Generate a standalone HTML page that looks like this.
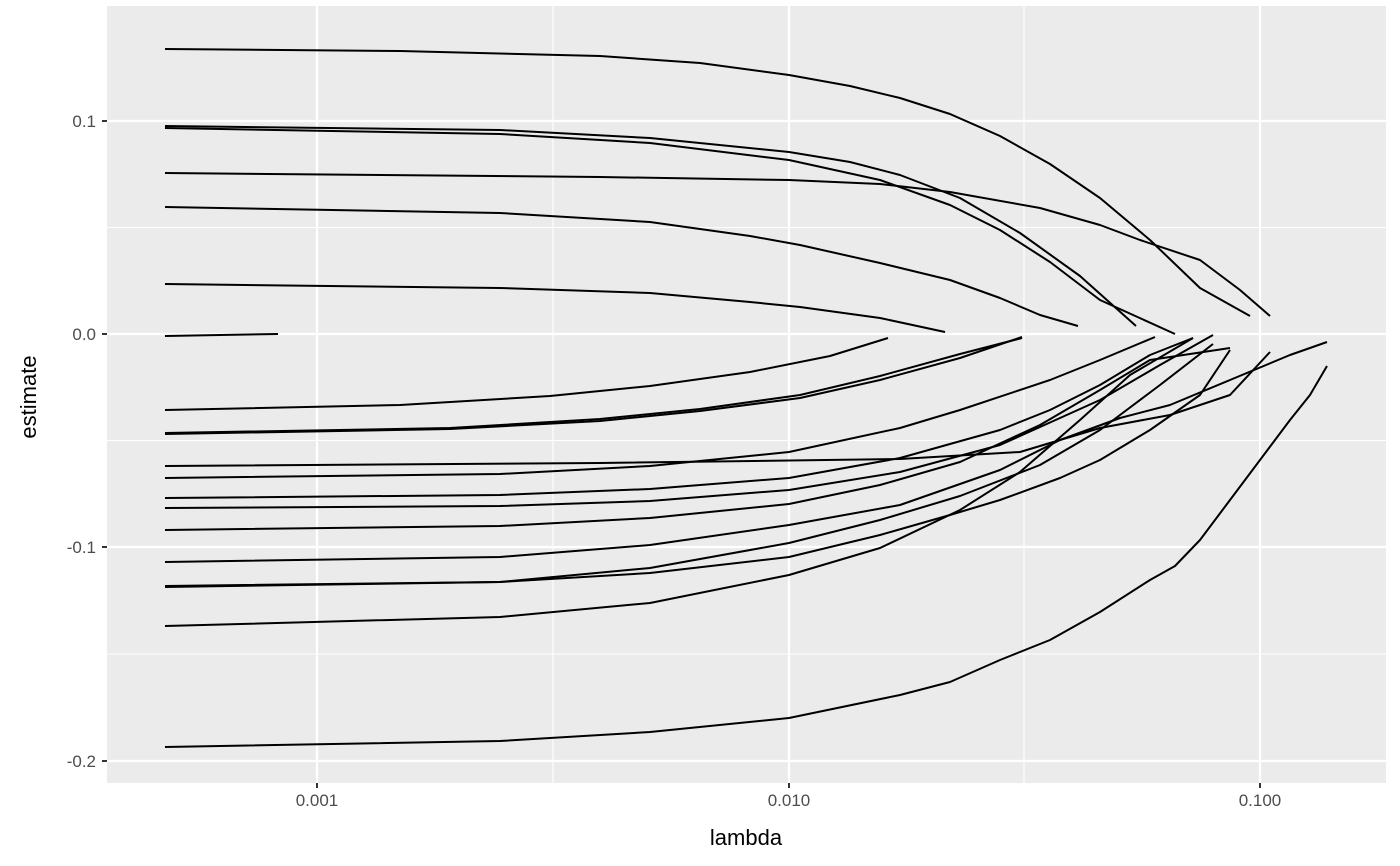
<!DOCTYPE html>
<html><head><style>body{margin:0;background:#fff}svg{display:block}text{font-family:"Liberation Sans",sans-serif}</style></head>
<body>
<svg width="1400" height="866" viewBox="0 0 1400 866">
<rect x="107" y="6" width="1279" height="777" fill="#ebebeb"/>
<g stroke="#fff" stroke-width="1.1">
<line x1="107" x2="1386" y1="227.5" y2="227.5"/><line x1="107" x2="1386" y1="440.5" y2="440.5"/><line x1="107" x2="1386" y1="654" y2="654"/>
<line x1="553" x2="553" y1="6" y2="783"/><line x1="1024" x2="1024" y1="6" y2="783"/>
</g>
<g stroke="#fff" stroke-width="2.2">
<line x1="107" x2="1386" y1="121" y2="121"/><line x1="107" x2="1386" y1="334" y2="334"/><line x1="107" x2="1386" y1="547" y2="547"/><line x1="107" x2="1386" y1="761" y2="761"/>
<line x1="317" x2="317" y1="6" y2="783"/><line x1="789" x2="789" y1="6" y2="783"/><line x1="1260" x2="1260" y1="6" y2="783"/>
</g>
<g fill="none" stroke="#000" stroke-width="2" stroke-linejoin="round">
<polyline points="165,49 400,51 600,56 700,63 789,75 850,86 900,98 950,114 1000,136 1050,164 1100,198 1150,240 1200,288 1250,316"/>
<polyline points="165,126 500,130 650,138 789,152 850,162 900,175 960,198 1020,233 1080,276 1136,326"/>
<polyline points="165,128 500,134 650,143 789,160 880,180 950,205 1000,230 1050,262 1100,300 1175,334"/>
<polyline points="165,173 600,177 789,180 880,184 950,192 1040,208 1100,225 1140,240 1200,260 1240,290 1270,316"/>
<polyline points="165,207 500,213 650,222 750,236 800,245 880,263 950,280 1000,298 1040,315 1078,326"/>
<polyline points="165,284 500,288 650,293 750,302 800,307 880,318 945,332"/>
<polyline points="165,336 278,334"/>
<polyline points="165,410 400,405 550,396 650,386 750,372 830,356 888,338"/>
<polyline points="165,434 450,429 600,421 700,411 800,398 880,380 960,358 1022,337"/>
<polyline points="165,433 450,428 600,419 700,409 800,395 880,376 960,354 1022,338"/>
<polyline points="165,466 600,463 900,459 1020,452 1100,428 1170,415 1230,395 1270,352"/>
<polyline points="165,478 500,474 650,466 789,452 900,428 960,410 1050,380 1100,360 1155,337"/>
<polyline points="165,498 500,495 650,489 789,478 900,458 1000,430 1050,410 1100,385 1150,355 1193,338"/>
<polyline points="165,508 500,506 650,501 789,490 900,472 1000,445 1100,400 1160,365 1213,335"/>
<polyline points="165,530 500,526 650,518 789,504 880,485 960,462 1040,425 1100,390 1150,360 1230,348"/>
<polyline points="165,562 500,557 650,545 789,525 900,505 1000,470 1060,440 1120,418 1170,405 1230,380 1290,355 1327,342"/>
<polyline points="165,586 500,582 650,573 789,557 880,535 950,515 1000,500 1060,478 1100,460 1150,430 1200,395 1230,350"/>
<polyline points="165,587 500,582 650,568 789,543 880,520 960,496 1040,465 1100,430 1160,385 1213,344"/>
<polyline points="165,626 500,617 650,603 789,575 880,548 960,510 1020,472 1080,420 1130,375 1193,338"/>
<polyline points="165,747 500,741 650,732 789,718 900,695 950,682 1000,660 1050,640 1100,612 1150,580 1175,566 1200,540 1230,500 1260,460 1290,420 1310,395 1327,366"/>
</g>
<g stroke="#333" stroke-width="2">
<line x1="102" x2="107" y1="121" y2="121"/><line x1="102" x2="107" y1="334" y2="334"/><line x1="102" x2="107" y1="547" y2="547"/><line x1="102" x2="107" y1="761" y2="761"/>
<line x1="317" x2="317" y1="783" y2="788"/><line x1="789" x2="789" y1="783" y2="788"/><line x1="1260" x2="1260" y1="783" y2="788"/>
</g>
<g fill="#4d4d4d" font-size="17" text-anchor="end">
<text x="96" y="127">0.1</text><text x="96" y="340">0.0</text><text x="96" y="553">-0.1</text><text x="96" y="767">-0.2</text>
</g>
<g fill="#4d4d4d" font-size="17" text-anchor="middle">
<text x="317" y="806">0.001</text><text x="789" y="806">0.010</text><text x="1260" y="806">0.100</text>
</g>
<text x="746" y="845" font-size="22" text-anchor="middle">lambda</text>
<text transform="translate(36,397) rotate(-90)" font-size="22" text-anchor="middle">estimate</text>
</svg>
</body></html>
